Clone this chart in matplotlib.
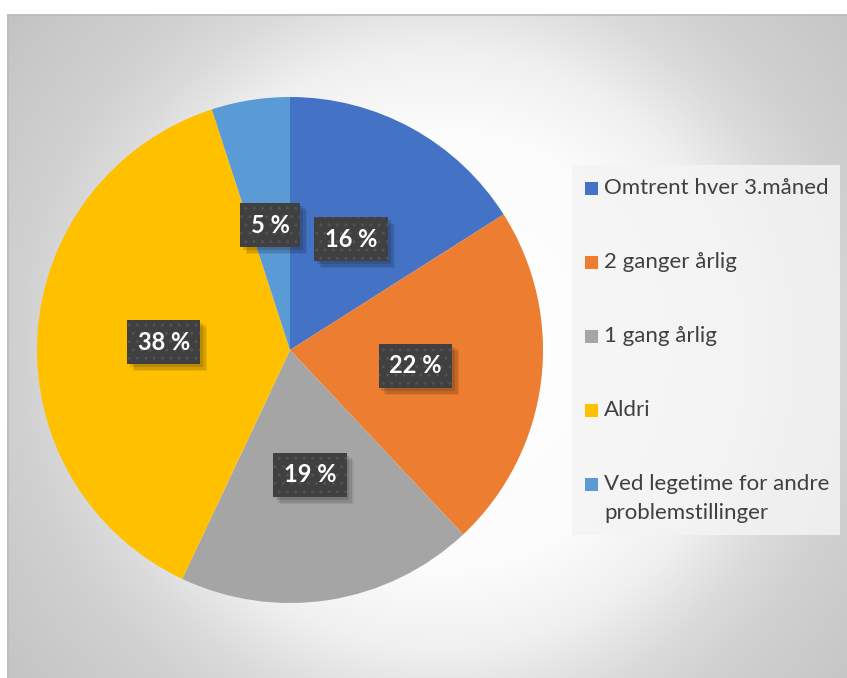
import numpy as np
import matplotlib
matplotlib.use("Agg")
import matplotlib.pyplot as plt
from matplotlib.patches import Rectangle
import matplotlib.patheffects as pe

# Survey answers: how often the check is done
categories = [
    "Omtrent hver 3.måned",
    "2 ganger årlig",
    "1 gang årlig",
    "Aldri",
    "Ved legetime for andre\nproblemstillinger",
]
shares = [16, 22, 19, 38, 5]
value_labels = ["16 %", "22 %", "19 %", "38 %", "5 %"]
colors = ["#4472C4", "#ED7D31", "#A5A5A5", "#FFC000", "#5B9BD5"]

W, H = 847, 678
fig = plt.figure(figsize=(W / 100, H / 100), dpi=100)
fig.patch.set_facecolor("white")

def fx(px):
    return px / W

def fy(py):
    return 1 - py / H

# Chart area with a radial gradient background
x0, y0, x1, y1 = 7, 14, 847, 678
bg = fig.add_axes([fx(x0), fy(y1), fx(x1 - x0), (y1 - y0) / H])
bg.set_axis_off()
nx, ny = x1 - x0, y1 - y0
xx, yy = np.meshgrid(np.arange(nx) + x0, np.arange(ny) + y0)
d = np.hypot(xx - 440, yy - 350)
grad_d = [0, 220, 300, 370, 420, 540, 700]
grad_v = [255, 252, 240, 219, 209, 196, 190]
val = np.interp(d, grad_d, grad_v) / 255.0
bg.imshow(np.dstack([val, val, val]), aspect="auto", interpolation="bilinear",
          extent=(0, nx, ny, 0))
bg.plot([0, nx], [0.5, 0.5], color="#bdbdbd", lw=1.2)
bg.plot([0.5, 0.5], [0, ny], color="#bdbdbd", lw=1.2)
bg.set_xlim(0, nx)
bg.set_ylim(ny, 0)

# Pie
pcx, pcy, rad = 290, 350, 253
ax = fig.add_axes([fx(pcx - rad), fy(pcy + rad), fx(2 * rad), 2 * rad / H])
label_font = dict(fontsize=17, fontweight="bold", family=["Lato", "DejaVu Sans"],
                  ha="center", va="center")
wedges, texts = ax.pie(
    shares, colors=colors, startangle=90, counterclock=False,
    labels=value_labels, labeldistance=0.5,
    wedgeprops=dict(linewidth=0),
    textprops=dict(color="white", **label_font),
)
ax.set_xlim(-1, 1)
ax.set_ylim(-1, 1)
ax.set_aspect("equal")
ax.patch.set_alpha(0)

box_style = "square,pad=0.45"
for t in texts:
    x, y = t.get_position()
    # solid dark box with a soft drop shadow underneath the label
    base = ax.text(x, y, t.get_text(), color="none", zorder=t.get_zorder() - 0.1,
                   **label_font)
    base.set_bbox(dict(boxstyle=box_style, facecolor="#404040", linewidth=0))
    base.get_bbox_patch().set_path_effects([
        pe.SimplePatchShadow(offset=(5, -5), shadow_rgbFace="#000000", alpha=0.08),
        pe.SimplePatchShadow(offset=(4, -4), shadow_rgbFace="#000000", alpha=0.10),
        pe.SimplePatchShadow(offset=(2, -2), shadow_rgbFace="#000000", alpha=0.12),
        pe.Normal(),
    ])
    # dotted texture on top of the box
    t.set_bbox(dict(boxstyle=box_style, facecolor="none", edgecolor="#525252",
                    linewidth=0, hatch=".."))

# Legend panel
lax = fig.add_axes([0, 0, 1, 1])
lax.set_axis_off()
lax.set_xlim(0, W)
lax.set_ylim(H, 0)
lax.patch.set_alpha(0)
lax.add_patch(Rectangle((572, 165), 268, 370, facecolor="#f4f4f4",
                        edgecolor="none", alpha=0.85))
entry_y0, entry_step, line_step, sq = 188, 74, 29, 13
for i, (lab, col) in enumerate(zip(categories, colors)):
    yc = entry_y0 + i * entry_step
    lax.add_patch(Rectangle((585, yc - sq / 2), sq, sq, facecolor=col, edgecolor="none"))
    for k, line in enumerate(lab.split("\n")):
        lax.text(604, yc + k * line_step, line, fontsize=16, color="#404040",
                 va="center", ha="left", family=["Lato", "DejaVu Sans"])

fig.savefig("out.png", dpi=100)
